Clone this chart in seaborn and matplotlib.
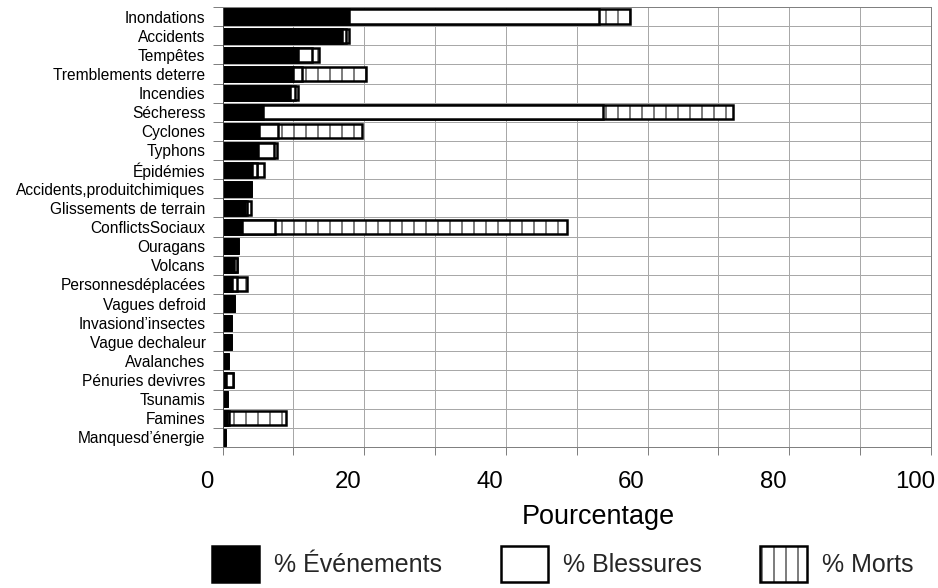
import numpy as np
import pandas as pd
import matplotlib
matplotlib.use("Agg")
import matplotlib.pyplot as plt
import seaborn as sns
from matplotlib.patches import Patch
from matplotlib.transforms import ScaledTranslation

# ---------------- data ----------------
categories = [
    "Inondations", "Accidents", "Tempêtes", "Tremblements deterre", "Incendies",
    "Sécheress", "Cyclones", "Typhons", "Épidémies", "Accidents,produitchimiques",
    "Glissements de terrain", "ConflictsSociaux", "Ouragans", "Volcans",
    "Personnesdéplacées", "Vagues defroid", "Invasiond’insectes", "Vague dechaleur",
    "Avalanches", "Pénuries devivres", "Tsunamis", "Famines", "Manquesd’énergie",
]
evenements = [17.8, 16.8, 10.6, 10.0, 9.5, 5.7, 5.2, 5.05, 4.1, 4.0, 3.2, 2.8,
              2.2, 1.6, 1.4, 1.6, 1.25, 1.15, 0.8, 0.45, 0.7, 0.7, 0.4]
blessures = [35.4, 0.7, 2.0, 1.2, 0.7, 48.0, 2.7, 2.15, 0.7, 0.0, 0.3, 4.6,
             0.0, 0.4, 0.6, 0.0, 0.0, 0.0, 0.0, 1.1, 0.0, 0.2, 0.0]
morts = [4.3, 0.3, 1.0, 9.1, 0.5, 18.4, 11.75, 0.5, 1.1, 0.0, 0.5, 41.2,
         0.0, 0.1, 1.4, 0.0, 0.0, 0.0, 0.0, 0.0, 0.0, 8.1, 0.0]
x_ticks = [0, 20, 40, 60, 80, 100]
x_label = "Pourcentage"
legend_labels = ["% Événements", "% Blessures", "% Morts"]

# ---------------- style ----------------
sns.set_theme(style="white")
plt.rcParams["font.family"] = ["Liberation Sans", "DejaVu Sans"]
plt.rcParams["hatch.linewidth"] = 1.0
plt.rcParams["hatch.color"] = "black"

DPI = 72
W, H = 938, 588
fig = plt.figure(figsize=(W / DPI, H / DPI), dpi=DPI)
fig.patch.set_facecolor("white")
ax = fig.add_axes([222.5 / W, 1 - 447 / H, (931 - 222.5) / W, 440 / H])

df = pd.DataFrame({"cat": categories, "ev": evenements, "bl": blessures, "mo": morts})
df["cum_bl"] = df["ev"] + df["bl"]
df["cum_mo"] = df["cum_bl"] + df["mo"]

common = dict(y="cat", orient="h", order=categories, ax=ax, edgecolor="black",
              linewidth=2.5, width=0.74, saturation=1, errorbar=None)
sns.barplot(data=df, x="cum_mo", color="white", hatch="|", **common)
sns.barplot(data=df, x="cum_bl", color="white", **common)
sns.barplot(data=df, x="ev", color="black", **common)

# ---------------- axes ----------------
ax.set_xlim(0, 100)
ax.set_ylim(len(categories) - 0.5, -0.5)
ax.set_xticks(x_ticks)
ax.set_xticks(np.arange(10, 100, 20), minor=True)
ax.set_yticks(np.arange(-0.5, len(categories), 1), minor=True)
ax.set_axisbelow(True)
ax.grid(which="both", axis="x", color="#a8a8a8", lw=1)
ax.grid(which="minor", axis="y", color="#a8a8a8", lw=1)
ax.grid(which="major", axis="y", visible=False)

ax.tick_params(axis="x", which="both", direction="out", length=8, width=1,
               color="#808080", bottom=True, labelsize=24, pad=16, labelcolor="black")
ax.tick_params(axis="y", which="major", length=0, labelsize=15.5, pad=17, labelcolor="black")
ax.tick_params(axis="y", which="minor", direction="out", length=10, width=1,
               color="#808080", left=True)

for lbl in ax.get_xticklabels():
    lbl.set_transform(lbl.get_transform() + ScaledTranslation(-16 / DPI, 0, fig.dpi_scale_trans))

for s in ax.spines.values():
    s.set_visible(True)
    s.set_color("#808080")
    s.set_linewidth(1)
ax.spines["left"].set_color("#404040")

ax.set_ylabel("")
ax.set_xlabel(x_label, fontsize=27, color="black")
ax.xaxis.set_label_coords((598 - 222.5) / 708.5, (447 - 517) / 440)
ax.xaxis.label.set_va("center")

handles = [
    Patch(facecolor="black", edgecolor="black", lw=2.5),
    Patch(facecolor="white", edgecolor="black", lw=2.5),
    Patch(facecolor="white", edgecolor="black", lw=2.5, hatch="|"),
]
fig.legend(handles, legend_labels, loc="center", bbox_to_anchor=(563 / W, 1 - 564 / H),
           ncol=3, frameon=False, fontsize=25, handlelength=1.88, handleheight=1.84,
           handletextpad=0.6, columnspacing=2.35, borderpad=0, borderaxespad=0)

fig.savefig("out.png", dpi=DPI, facecolor="white")
